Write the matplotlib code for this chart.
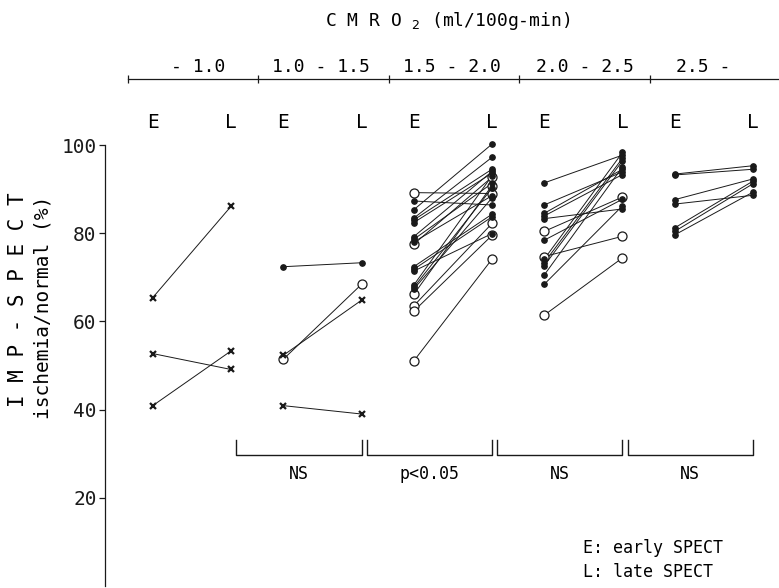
import matplotlib
matplotlib.use("Agg")
import matplotlib.pyplot as plt

# CMRO2 classes and significance of the E -> L change
groups = ["- 1.0", "1.0 - 1.5", "1.5 - 2.0", "2.0 - 2.5", "2.5 -"]
stats = ["NS", "p<0.05", "NS", "NS"]   # for groups 2..5

# early / late values (%) and marker kind per patient
# 'x' = cross, 'f' = filled dot, 'o' = open circle
g1_early = [65.4, 52.7, 40.9]
g1_late = [86.1, 49.1, 53.3]
g1_kind = ['x', 'x', 'x']

g2_early = [72.4, 51.4, 52.3, 40.9]
g2_late = [73.3, 68.4, 64.8, 39.0]
g2_kind = ['f', 'o', 'x', 'x']

g3_early = [89.2, 77.5, 66.1, 63.5, 62.3, 51.0,
            87.3, 85.3, 83.4, 83.0, 82.4, 79.2, 78.6, 78.0,
            72.4, 71.8, 71.4, 68.2, 67.7, 67.3]
g3_late = [89.0, 92.7, 90.8, 82.2, 79.5, 74.1,
           86.4, 100.2, 97.2, 94.5, 93.6, 94.0, 91.3, 88.5,
           84.3, 83.7, 79.9, 93.0, 90.2, 88.0]
g3_kind = ['o'] * 6 + ['f'] * 14

g4_early = [91.4, 86.4, 84.5, 83.9, 83.3, 80.4, 78.4,
            74.7, 74.1, 73.3, 72.6, 70.5, 68.4, 61.4]
g4_late = [97.7, 93.9, 94.5, 93.3, 85.5, 88.2, 87.7,
           79.3, 98.3, 97.0, 96.4, 95.0, 86.2, 74.4]
g4_kind = ['f', 'f', 'f', 'f', 'f', 'o', 'f',
           'o', 'f', 'f', 'f', 'f', 'f', 'o']

g5_early = [93.4, 93.2, 87.6, 86.6, 81.2, 80.4, 79.6]
g5_late = [95.3, 94.5, 92.3, 88.6, 91.8, 91.2, 89.3]
g5_kind = ['f'] * 7

data = [(g1_early, g1_late, g1_kind), (g2_early, g2_late, g2_kind),
        (g3_early, g3_late, g3_kind), (g4_early, g4_late, g4_kind),
        (g5_early, g5_late, g5_kind)]

MONO = 'DejaVu Sans Mono'
plt.rcParams['font.family'] = MONO
plt.rcParams['mathtext.fontset'] = 'dejavusans'

E_OFF, L_OFF = 0.19, 0.79
INK = '#1a1a1a'

fig = plt.figure(figsize=(7.79, 5.88), dpi=100)
ax = fig.add_axes([0.1348, 0.0034, 0.8652, 0.75])

styles = {
    'f': dict(marker='o', ms=4, mfc=INK, mec=INK, mew=0.8),
    'o': dict(marker='o', ms=6.5, mfc='white', mec=INK, mew=0.9),
    'x': dict(marker='x', ms=5, mec=INK, mew=1.6),
}

for i, (early, late, kind) in enumerate(data):
    xe, xl = i + E_OFF, i + L_OFF
    for e, l, k in zip(early, late, kind):
        ax.plot([xe, xl], [e, l], color=INK, lw=0.7, zorder=2)
    for e, l, k in zip(early, late, kind):
        ax.plot([xe, xl], [e, l], ls='none', zorder=3, clip_on=False, **styles[k])
    ax.text(xe, 105, "E", ha='center', va='center', fontsize=14)
    ax.text(xl, 105, "L", ha='center', va='center', fontsize=14)

# category bar on top
top_y = 115
ax.plot([0, 5.0], [top_y, top_y], color=INK, lw=0.9, clip_on=False)
ax.plot(range(5), [top_y] * 5, ls='none', marker='|', ms=6, mew=0.9,
        color=INK, clip_on=False)
label_shift = [0.04, -0.02, -0.02, 0, -0.09]
for i, g in enumerate(groups):
    ax.text(i + 0.5 + label_shift[i], top_y + 2.6, g, ha='center',
            va='center', fontsize=13)

# significance brackets
for j, s in enumerate(stats):
    g = j + 1
    x0, x1 = g - 1 + L_OFF + 0.04, g + L_OFF
    ax.plot([x0, x0, x1, x1], [33.2, 29.8, 29.8, 33.2], color=INK, lw=1.0)
    ax.text((x0 + x1) / 2, 25.4, s, ha='center', va='center', fontsize=12)

ax.set_xlim(-0.176, 4.99)
ax.set_ylim(0, 100)
ax.set_yticks([20, 40, 60, 80, 100])
ax.tick_params(axis='y', direction='out', length=4, width=0.9,
               labelsize=14, pad=2, colors=INK)
ax.set_xticks([])
for sp in ['top', 'right', 'bottom']:
    ax.spines[sp].set_visible(False)
ax.spines['left'].set_linewidth(0.9)
ax.spines['left'].set_color(INK)

fig.text(448 / 779, 1 - 21 / 588, r"C M R O $_2$ (ml/100g-min)",
         ha='center', va='center', fontsize=13)
fig.text(18 / 779, 1 - 300 / 588, "I M P - S P E C T", rotation=90,
         ha='center', va='center', fontsize=15)
fig.text(43 / 779, 1 - 307 / 588, "ischemia/normal (%)", rotation=90,
         ha='center', va='center', fontsize=14)
fig.text(583 / 779, 1 - 548 / 588, "E: early SPECT", ha='left',
         va='center', fontsize=12)
fig.text(583 / 779, 1 - 572 / 588, "L: late SPECT", ha='left',
         va='center', fontsize=12)

fig.savefig("out.png", dpi=100)
